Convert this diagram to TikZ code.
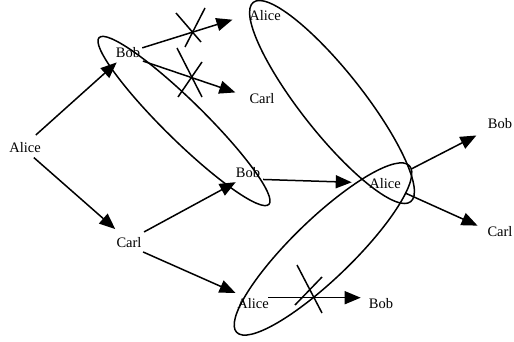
\documentclass[tikz,border=0pt]{standalone}
\usepackage{fontspec}
\setmainfont{Liberation Serif}
\usetikzlibrary{arrows.meta}
\tikzset{
  agent/.style={inner sep=1pt,font=\fontsize{14.5}{16}\selectfont},
  msg/.style={line width=1.5pt,-{Triangle[length=16pt,width=13pt]}},
  ring/.style={line width=1.5pt},
  cut/.style={line width=1.5pt},
}

\begin{document}
\begin{tikzpicture}[x=1pt,y=-1pt]
  \useasboundingbox (0,0) rectangle (514,342);
  % participants
  \node[agent] (aliceL) at (25,148) {Alice};
  \node[agent] (bobT)   at (128,53) {Bob};
  \node[agent] (aliceT) at (265,16) {Alice};
  \node[agent] (carlT)  at (262,99) {Carl};
  \node[agent] (bobM)   at (248,173) {Bob};
  \node[agent] (carlB)  at (129,243) {Carl};
  \node[agent] (aliceR) at (385,184) {Alice};
  \node[agent] (bobR)   at (500,124) {Bob};
  \node[agent] (carlR)  at (500,232) {Carl};
  \node[agent] (aliceB) at (253,304) {Alice};
  \node[agent] (bobB)   at (381,304) {Bob};
  % messages
  \draw[msg,shorten <=10pt,shorten >=4.7pt]  (aliceL.62)  -- (bobT.219);
  \draw[msg,shorten <=5pt,shorten >=11.5pt]  (aliceL.-51) -- (carlB.129);
  \draw[msg,shorten <=1pt,shorten >=16.4pt]  (bobT.20)    -- (aliceT.176.5);
  \draw[msg,shorten <=5.5pt,shorten >=13.7pt] (bobT.-33)  -- (carlT.171.6);
  \draw[msg,shorten <=10pt,shorten >=6pt]    (carlB.45)   -- (bobM.222);
  \draw[msg,shorten <=6.6pt,shorten >=11.7pt] (carlB.-38) -- (aliceB.137);
  \draw[msg,shorten <=5.5pt,shorten >=16.4pt] (bobM.-33)  -- (aliceR.176.5);
  \draw[msg,shorten <=19.5pt,shorten >=11.6pt] (aliceR.34) -- (bobR.205.6);
  \draw[msg,shorten <=7.3pt,shorten >=9.6pt] (aliceR.-24) -- (carlR.170);
  \draw[msg,shorten <=11.5pt,shorten >=14pt] (aliceB.60.6) -- (bobB.135);
  % blocked messages
  \draw[cut] (176,13) -- (201,42) (185,47) -- (205,8);
  \draw[cut] (177,48) -- (202,97) (178,97) -- (202,62);
  \draw[cut] (297,265) -- (322,313) (295,305) -- (322,277);
  % views
  \draw[ring,rotate around={-44.5:(184,121)}] (184,121) ellipse [x radius=119,y radius=20];
  \draw[ring,rotate around={-51.7:(332,102)}] (332,102) ellipse [x radius=127,y radius=31];
  \draw[ring,rotate around={44:(323,249)}] (323,249) ellipse [x radius=120,y radius=30];
\end{tikzpicture}
\end{document}
